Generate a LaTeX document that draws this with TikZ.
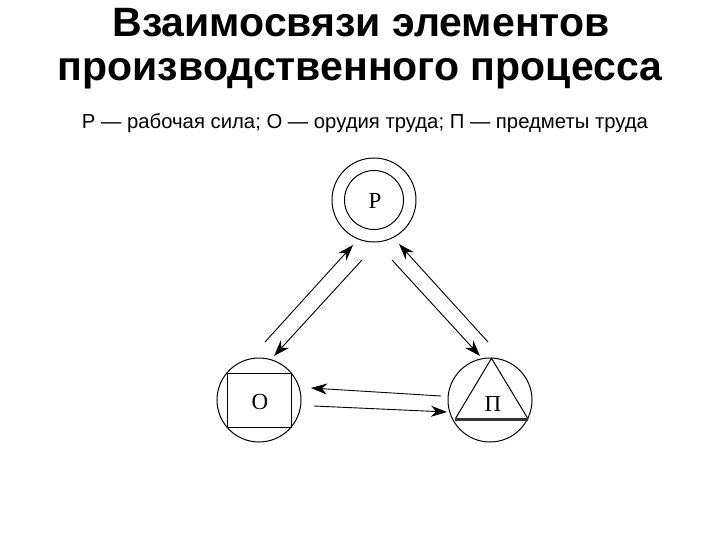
\documentclass[tikz,border=0pt]{standalone}
\usepackage{fontspec}
\setmainfont{Liberation Sans}
\newfontfamily\serifletters{Liberation Serif}
\usetikzlibrary{arrows.meta}
\tikzset{
  elem/.style={circle, draw, line width=1pt, minimum size=84pt, inner sep=0pt},
  inring/.style={circle, draw, line width=1pt, minimum size=59pt, inner sep=0pt},
  letter/.style={font=\serifletters\fontsize{23}{23}\selectfont},
  flow/.style={line width=0.9pt, -{Stealth[length=16pt,width=11pt,inset=5pt]}},
  titletext/.style={anchor=base, font=\bfseries\fontsize{41}{41}\selectfont},
  subtext/.style={anchor=base, font=\fontsize{20.3}{20.3}\selectfont}
}
\begin{document}
\begin{tikzpicture}[x=1pt,y=-1pt]
\useasboundingbox (0,0) rectangle (720,540);
% titles
\node[titletext] (t1) at (361,37) {Взаимосвязи элементов};
\node[titletext] (t2) at (360,81) {производственного процесса};
\node[subtext] (t3) at (365,129) {Р — рабочая сила; О — орудия труда; П — предметы труда};
% elements
\node[elem] (P) at (374,200) {};
\node[inring] (Pin) at (374,200) {};
\node[letter] (Pl) at (375,201) {Р};
\node[elem] (O) at (259,400) {};
\draw[line width=1pt] (227.7,373.3) rectangle (291,427.3);
\node[letter] (Ol) at (260,402) {О};
\node[elem] (T) at (490,400) {};
\draw[line width=1pt] (455,419.3) -- (491.5,358.3) -- (528.3,419.3);
\draw[line width=2.6pt, black!80] (455,419.3) -- (528.3,419.3);
\node[letter] (Tl) at (493,404) {П};
% arrow end points
\coordinate (a1s) at (265,342); \coordinate (a1e) at (353,245);
\coordinate (a2s) at (362,260); \coordinate (a2e) at (274,356);
\coordinate (a3s) at (392,260); \coordinate (a3e) at (480,356);
\coordinate (a4s) at (488,342); \coordinate (a4e) at (399,244);
\coordinate (a5s) at (441,396); \coordinate (a5e) at (311,388);
\coordinate (a6s) at (314,406); \coordinate (a6e) at (447,412);
\draw[flow] (a1s) -- (a1e);
\draw[flow] (a2s) -- (a2e);
\draw[flow] (a3s) -- (a3e);
\draw[flow] (a4s) -- (a4e);
\draw[flow] (a5s) -- (a5e);
\draw[flow] (a6s) -- (a6e);
\end{tikzpicture}
\end{document}
